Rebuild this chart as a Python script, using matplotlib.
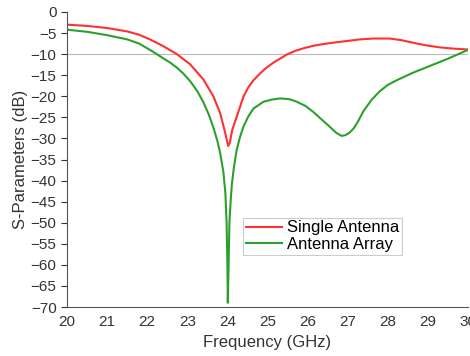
import matplotlib
matplotlib.use('Agg')
import matplotlib.pyplot as plt

# Single antenna S11
freq_single = [20.0, 20.5, 21.0, 21.5, 21.8, 22.07, 22.4, 22.74, 23.07, 23.4,
               23.65, 23.82, 23.94, 24.02, 24.06, 24.12, 24.23, 24.4, 24.52, 24.65,
               24.8, 24.95, 25.15, 25.48, 25.7, 25.9, 26.15, 26.4, 26.7, 26.97, 27.3,
               27.63, 28.05, 28.35, 28.63, 28.95, 29.3, 29.65, 30.0]
s11_single = [-3.0, -3.3, -3.8, -4.6, -5.4, -6.5, -8.1, -10.0, -12.4, -16.0,
              -20.0, -24.0, -28.5, -31.8, -31.0, -28.0, -24.9, -20.1, -17.9, -16.2,
              -14.7, -13.4, -12.0, -10.1, -9.2, -8.6, -8.0, -7.6, -7.2, -6.9, -6.5,
              -6.3, -6.3, -6.7, -7.3, -7.9, -8.4, -8.7, -8.9]

# Antenna array S11
freq_array = [20.0, 20.5, 21.0, 21.5, 21.8, 22.07, 22.24, 22.4, 22.57, 22.74, 22.9,
              23.07, 23.25, 23.4, 23.53, 23.65, 23.75, 23.82, 23.9, 23.95, 23.98,
              24.0, 24.01, 24.03, 24.05, 24.08, 24.11, 24.16, 24.23, 24.31, 24.4,
              24.52, 24.65, 24.9, 25.1, 25.32, 25.55, 25.73, 25.95, 26.14, 26.35,
              26.56, 26.72, 26.85, 26.95, 27.05, 27.15, 27.25, 27.4, 27.6, 27.8,
              28.0, 28.22, 28.63, 29.05, 29.47, 30.0]
s11_array = [-4.2, -4.7, -5.5, -6.5, -7.5, -9.0, -10.0, -11.0, -12.0, -13.2, -14.6,
             -16.4, -18.8, -21.4, -24.2, -27.4, -30.6, -33.5, -38.0, -43.0, -50.0,
             -60.0, -69.0, -60.0, -50.0, -45.0, -41.0, -37.0, -32.8, -29.8, -27.2,
             -24.8, -22.9, -21.3, -20.8, -20.5, -20.7, -21.3, -22.3, -23.7, -25.5,
             -27.3, -28.7, -29.4, -29.2, -28.6, -27.6, -26.1, -23.4, -20.8, -18.8,
             -17.3, -16.2, -14.4, -12.8, -11.2, -9.0]

xticks = list(range(20, 31))
yticks = list(range(0, -75, -5))

plt.rcParams['font.family'] = ['Liberation Sans', 'DejaVu Sans']

fig = plt.figure(figsize=(4.7, 3.56), dpi=100)
ax = fig.add_axes([0.1426, 0.1376, 0.8531, 0.8287])

ax.axhline(-10, color='#bbbbbb', lw=0.8, zorder=1)
ax.plot(freq_single, s11_single, color='#ff3030', lw=1.5, label='Single Antenna')
ax.plot(freq_array, s11_array, color='#2ca02c', lw=1.5, label='Antenna Array')

ax.set_xlim(20, 30)
ax.set_ylim(-70, 0)
ax.set_xticks(xticks)
ax.set_yticks(yticks)
ax.tick_params(axis='x', length=0, labelsize=11, pad=6, colors='#333333')
ax.tick_params(axis='y', length=4, labelsize=11, colors='#333333', direction='out')
ax.spines['top'].set_visible(False)
ax.spines['right'].set_visible(False)
ax.spines['left'].set_color('#555555')
ax.spines['bottom'].set_color('#555555')

ax.set_xlabel('Frequency (GHz)', fontsize=12, color='#333333', labelpad=4)
ax.set_ylabel('S-Parameters (dB)', fontsize=12, color='#333333', labelpad=2)

leg = ax.legend(loc='upper left', bbox_to_anchor=(0.439, 0.302), borderaxespad=0,
                fontsize=12, fancybox=False, framealpha=1, handlelength=2.2,
                handletextpad=0.3, borderpad=0.15, labelspacing=0.1)
leg.get_frame().set_edgecolor('#cccccc')
leg.get_frame().set_linewidth(0.8)

fig.savefig('out.png', dpi=100)
